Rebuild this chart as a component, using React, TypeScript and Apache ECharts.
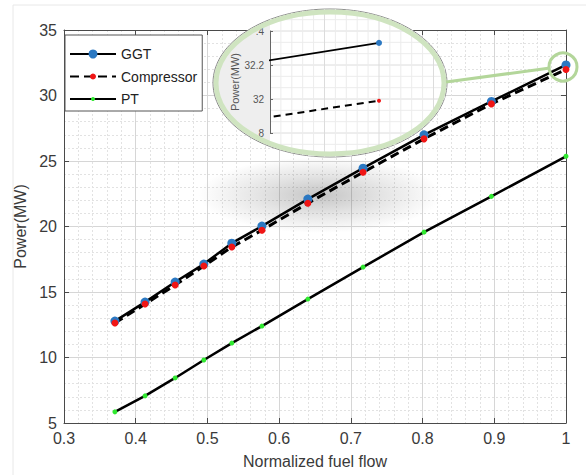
import { useEffect, useRef } from 'react';
import * as echarts from 'echarts';

const fuelFlow = [0.371, 0.413, 0.455, 0.495, 0.534, 0.576, 0.64, 0.717, 0.802, 0.896, 1.0];
const ggtPower = [12.78, 14.23, 15.76, 17.13, 18.73, 20.03, 22.09, 24.45, 27.0, 29.55, 32.33];
const compressorPower = [12.63, 14.08, 15.53, 16.98, 18.43, 19.72, 21.78, 24.14, 26.69, 29.36, 31.99];
const ptPower = [5.85, 7.07, 8.44, 9.81, 11.1, 12.4, 14.46, 16.9, 19.57, 22.3, 25.36];

const seriesNames = ['GGT', 'Compressor', 'PT'];
const xAxisName = 'Normalized fuel flow';
const yAxisName = 'Power(MW)';

const insetYTicks: Record<string, string> = { '32.4': '.4', '32.2': '32.2', '32': '32', '31.8': '.8' };

const FONT = '"Liberation Sans", Arial, Helvetica, sans-serif';
const BLUE = '#2b78c2';
const RED = '#f01515';
const GREEN = '#2fe82f';
const GREEN_FRAME = '#b3d69a';

// inset ellipse geometry
const EC = { cx: 330, cy: 83, rx: 117, ry: 74 };
const INSET = { left: 270, top: 31, width: 175, height: 102 };

function pairs(ys: number[]) {
  return fuelFlow.map((x, i) => [x, ys[i]]);
}

function insetGridLines() {
  const els: any[] = [];
  const pxPerUnit = INSET.height / 0.6;
  for (let k = -4; k <= 14; k++) {
    const v = 31.8 + (k * 0.2) / 3;
    const y = INSET.top + (32.4 - v) * pxPerUnit;
    const t = (y - EC.cy) / EC.ry;
    if (Math.abs(t) >= 1) continue;
    const dx = EC.rx * Math.sqrt(1 - t * t);
    const x1 = Math.max(INSET.left, EC.cx - dx);
    const x2 = EC.cx + dx;
    if (x2 <= x1) continue;
    els.push({
      type: 'line', z: 4, silent: true,
      shape: { x1, y1: y, x2, y2: y },
      style: { stroke: k % 3 === 0 ? '#dcdcdc' : '#ececec', lineWidth: 1 },
    });
  }
  for (let k = 1; k <= 17; k++) {
    const x = INSET.left + k * 10.9;
    const t = (x - EC.cx) / EC.rx;
    if (Math.abs(t) >= 1) continue;
    const dy = EC.ry * Math.sqrt(1 - t * t);
    els.push({
      type: 'line', z: 4, silent: true,
      shape: { x1: x, y1: EC.cy - dy, x2: x, y2: EC.cy + dy },
      style: { stroke: k % 5 === 0 ? '#dcdcdc' : '#ececec', lineWidth: 1 },
    });
  }
  return els;
}

export default function App() {
  const ref = useRef<HTMLDivElement>(null);
  useEffect(() => {
    if (!ref.current) return;
    const chart = echarts.init(ref.current, undefined, { renderer: 'svg' });
    const axisLineColor = '#4a4a4a';
    const labelColor = '#3a3a3a';
    const option: any = {
      animation: false,
      backgroundColor: '#ffffff',
      textStyle: { fontFamily: FONT },
      grid: [
        { left: 64, right: 20, top: 30, bottom: 52 },
        { left: INSET.left, top: INSET.top, width: INSET.width, height: INSET.height, z: 5 },
      ],
      legend: {
        orient: 'vertical',
        left: 65,
        top: 35,
        itemWidth: 46,
        itemHeight: 5,
        itemGap: 8.5,
        padding: [12, 5, 5, 4],
        backgroundColor: '#ffffff',
        borderColor: '#555555',
        borderWidth: 1,
        z: 8,
        textStyle: { fontSize: 14, color: '#222222', fontFamily: FONT },
        data: [
          { name: seriesNames[0], itemStyle: { color: BLUE, borderColor: BLUE, borderWidth: 5 } },
          { name: seriesNames[1], itemStyle: { color: RED, borderColor: RED, borderWidth: 2 } },
          { name: seriesNames[2], itemStyle: { color: GREEN, borderColor: GREEN, borderWidth: 0 } },
        ],
      },
      xAxis: [
        {
          type: 'value', gridIndex: 0, min: 0.3, max: 1, interval: 0.1,
          name: xAxisName, nameLocation: 'middle', nameGap: 30,
          nameTextStyle: { fontSize: 16, color: labelColor, fontFamily: FONT },
          axisLine: { lineStyle: { color: axisLineColor, width: 1 } },
          axisTick: { inside: true, length: 5, lineStyle: { color: axisLineColor } },
          axisLabel: { fontSize: 16, color: labelColor, margin: 7, fontFamily: FONT },
          splitLine: { show: true, lineStyle: { color: '#d6d6d6', width: 1 } },
          minorTick: { show: false, splitNumber: 5 },
          minorSplitLine: { show: true, lineStyle: { color: '#e2e2e2', type: [2, 2], width: 1 } },
        },
        {
          type: 'value', gridIndex: 0, min: 0.3, max: 1, interval: 0.1, position: 'top',
          axisLine: { lineStyle: { color: axisLineColor, width: 1 } },
          axisTick: { inside: true, length: 5, lineStyle: { color: axisLineColor } },
          axisLabel: { show: false },
          splitLine: { show: false },
        },
        {
          type: 'value', gridIndex: 1, min: 0.9962, max: 1.0023, show: false,
          splitLine: { show: false },
        },
      ],
      yAxis: [
        {
          type: 'value', gridIndex: 0, min: 5, max: 35, interval: 5,
          name: yAxisName, nameLocation: 'middle', nameGap: 29,
          nameTextStyle: { fontSize: 16, color: labelColor, fontFamily: FONT },
          axisLine: { show: true, lineStyle: { color: axisLineColor, width: 1 } },
          axisTick: { show: true, inside: true, length: 5, lineStyle: { color: axisLineColor } },
          axisLabel: { fontSize: 16, color: labelColor, margin: 7, fontFamily: FONT },
          splitLine: { show: true, lineStyle: { color: '#d6d6d6', width: 1 } },
          minorTick: { show: false, splitNumber: 5 },
          minorSplitLine: { show: true, lineStyle: { color: '#e2e2e2', type: [2, 2], width: 1 } },
        },
        {
          type: 'value', gridIndex: 0, min: 5, max: 35, interval: 5, position: 'right',
          axisLine: { show: true, lineStyle: { color: axisLineColor, width: 1 } },
          axisTick: { show: true, inside: true, length: 5, lineStyle: { color: axisLineColor } },
          axisLabel: { show: false },
          splitLine: { show: false },
        },
        {
          type: 'value', gridIndex: 1, min: 31.8, max: 32.4, interval: 0.2, z: 5,
          name: yAxisName, nameLocation: 'middle', nameGap: 27,
          nameTextStyle: { fontSize: 11, color: '#555555', fontFamily: FONT },
          axisLine: { show: true, lineStyle: { color: '#666666', width: 1 } },
          axisTick: { show: true, inside: true, length: 3, lineStyle: { color: '#666666' } },
          axisLabel: {
            fontSize: 10, color: '#555555', margin: 6, fontFamily: FONT,
            formatter: (v: number) => insetYTicks[String(Math.round(v * 10) / 10)] ?? String(v),
          },
          splitLine: { show: false },
        },
      ],
      series: [
        {
          name: seriesNames[0], type: 'line', xAxisIndex: 0, yAxisIndex: 0, z: 2,
          data: pairs(ggtPower), symbol: 'circle', symbolSize: 9,
          lineStyle: { color: '#000000', width: 2.5 },
          itemStyle: { color: BLUE },
          emphasis: { disabled: true },
        },
        {
          name: seriesNames[1], type: 'line', xAxisIndex: 0, yAxisIndex: 0, z: 2,
          data: pairs(compressorPower), symbol: 'circle', symbolSize: 7,
          lineStyle: { color: '#000000', width: 3, type: [9, 5] },
          itemStyle: { color: RED },
          emphasis: { disabled: true },
        },
        {
          name: seriesNames[2], type: 'line', xAxisIndex: 0, yAxisIndex: 0, z: 2,
          data: pairs(ptPower), symbol: 'circle', symbolSize: 5,
          lineStyle: { color: '#000000', width: 2.5 },
          itemStyle: { color: GREEN },
          emphasis: { disabled: true },
        },
        {
          name: 'GGT inset', type: 'line', xAxisIndex: 2, yAxisIndex: 2, z: 6, clip: true,
          data: pairs(ggtPower), symbol: 'circle', symbolSize: 6,
          lineStyle: { color: '#000000', width: 1.8 },
          itemStyle: { color: BLUE },
          emphasis: { disabled: true },
        },
        {
          name: 'Compressor inset', type: 'line', xAxisIndex: 2, yAxisIndex: 2, z: 6, clip: true,
          data: pairs(compressorPower), symbol: 'circle', symbolSize: 4,
          lineStyle: { color: '#000000', width: 2, type: [7, 5] },
          itemStyle: { color: RED },
          emphasis: { disabled: true },
        },
      ],
      graphic: [
        {
          type: 'rect', z: -1, silent: true,
          shape: { x: 13, y: 5, width: 640, height: 520 },
          style: { fill: 'none', stroke: '#e8e8e8', lineWidth: 1 },
        },
        {
          type: 'circle', z: 1, silent: true,
          x: 320, y: 195, scaleX: 3.2, scaleY: 1,
          shape: { cx: 0, cy: 0, r: 38 },
          style: {
            fill: {
              type: 'radial', x: 0.5, y: 0.5, r: 0.5,
              colorStops: [
                { offset: 0, color: 'rgba(60,60,60,0.30)' },
                { offset: 0.5, color: 'rgba(60,60,60,0.14)' },
                { offset: 1, color: 'rgba(60,60,60,0)' },
              ],
            },
          },
        },
        {
          type: 'ellipse', z: 3, silent: true,
          shape: { cx: EC.cx, cy: EC.cy, rx: EC.rx, ry: EC.ry },
          style: {
            fill: {
              type: 'linear', x: 0, y: 0, x2: 1, y2: 0,
              colorStops: [
                { offset: 0, color: '#eeeeee' },
                { offset: 0.243, color: '#eeeeee' },
                { offset: 0.245, color: '#ffffff' },
                { offset: 1, color: '#ffffff' },
              ],
            },
            stroke: '#8a8a8a', lineWidth: 1,
          },
        },
        ...insetGridLines(),
        {
          type: 'ellipse', z: 7, silent: true,
          shape: { cx: EC.cx, cy: EC.cy, rx: EC.rx - 3, ry: EC.ry - 3 },
          style: { fill: 'none', stroke: '#cfe4c0', lineWidth: 5 },
        },
        {
          type: 'line', z: 7, silent: true,
          shape: { x1: 446, y1: 82, x2: 550, y2: 68 },
          style: { stroke: GREEN_FRAME, lineWidth: 3 },
        },
        {
          type: 'circle', z: 7, silent: true,
          shape: { cx: 563, cy: 67, r: 14 },
          style: { fill: 'none', stroke: GREEN_FRAME, lineWidth: 3 },
        },
      ],
    };
    chart.setOption(option);
    return () => chart.dispose();
  }, []);
  return (
    <div
      ref={ref}
      style={{ position: 'absolute', left: 0, top: 0, width: 586, height: 475 }}
    />
  );
}
